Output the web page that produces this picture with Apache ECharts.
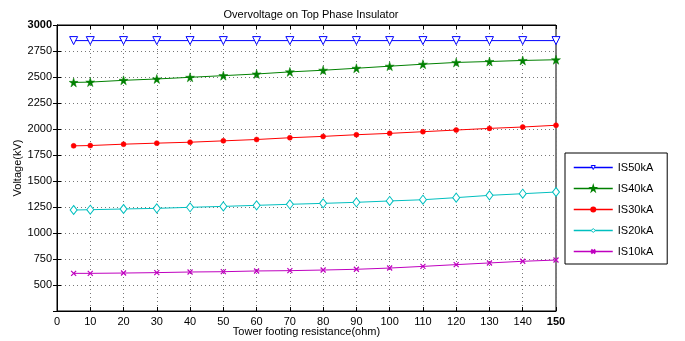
<!DOCTYPE html>
<html>
<head>
<meta charset="utf-8">
<script src="https://cdn.jsdelivr.net/npm/echarts@6/dist/echarts.min.js"></script>
<style>
  html, body { margin: 0; padding: 0; background: #fff; }
  #chart { width: 685px; height: 341px; }
</style>
</head>
<body>
<div id="chart"></div>
<script>
// resistance values (ohm)
const resistance = [5, 10, 20, 30, 40, 50, 60, 70, 80, 90, 100, 110, 120, 130, 140, 150];

const is50 = [2850, 2850, 2850, 2850, 2850, 2850, 2850, 2850, 2850, 2850, 2850, 2850, 2850, 2850, 2850, 2850];
const is40 = [2448, 2451, 2468, 2481, 2497, 2513, 2529, 2549, 2565, 2584, 2604, 2623, 2640, 2649, 2659, 2666];
const is30 = [1838, 1841, 1854, 1864, 1873, 1886, 1899, 1916, 1929, 1945, 1958, 1974, 1990, 2006, 2019, 2036];
const is20 = [1221, 1224, 1231, 1237, 1247, 1256, 1266, 1276, 1285, 1295, 1308, 1320, 1340, 1362, 1378, 1394];
const is10 = [612, 612, 615, 619, 625, 628, 635, 638, 644, 651, 663, 679, 696, 712, 728, 740];

const seriesNames = ["IS50kA", "IS40kA", "IS30kA", "IS20kA", "IS10kA"];

const starPath = "path://M50,0 L61,35 L98,35 L68,57 L79,91 L50,70 L21,91 L32,57 L2,35 L39,35 Z";
const crossPath = "path://M0,0 L10,10 M10,0 L0,10";

const pairs = (ys) => resistance.map((x, i) => [x, ys[i]]);

const font = "Liberation Sans, Arial, sans-serif";

const chart = echarts.init(document.getElementById("chart"));

const option = {
  animation: false,
  title: {
    text: "Overvoltage on Top Phase Insulator",
    left: 306,
    textAlign: "center",
    top: 4,
    textStyle: { fontSize: 11, fontWeight: "normal", color: "#000", fontFamily: font },
  },
  legend: {
    orient: "vertical",
    left: 565,
    top: 153,
    padding: [9, 14, 7, 8],
    itemGap: 10,
    itemWidth: 39,
    itemHeight: 5,
    borderColor: "#000",
    borderWidth: 1,
    backgroundColor: "#fff",
    lineStyle: { width: 1.5 },
    textStyle: { fontSize: 11, color: "#000", fontFamily: font },
    data: [
      { name: seriesNames[0], itemStyle: { color: "#fff", borderColor: "#0000ff", borderWidth: 1 } },
      { name: seriesNames[1] },
      { name: seriesNames[2] },
      { name: seriesNames[3], itemStyle: { color: "#fff", borderColor: "#00bfbf", borderWidth: 1 } },
      { name: seriesNames[4] },
    ],
  },
  grid: {
    left: 57,
    right: 129,
    top: 25,
    bottom: 30,
    outerBoundsMode: "none",
    show: true,
    borderColor: "#000",
    borderWidth: 1,
  },
  xAxis: [
    {
      type: "value",
      min: 0,
      max: 150,
      interval: 10,
      name: "Tower footing resistance(ohm)",
      nameLocation: "middle",
      nameGap: 15,
      nameMoveOverlap: false,
      nameTextStyle: { fontSize: 11, color: "#000", fontFamily: font },
      axisLine: { lineStyle: { color: "#000" } },
      axisTick: { inside: true, length: 4, lineStyle: { color: "#000" } },
      axisLabel: {
        fontSize: 11,
        color: "#000",
        fontFamily: font,
        margin: 5,
        formatter: (v) => (v === 150 ? "{b|150}" : String(v)),
        rich: { b: { fontWeight: "bold", fontSize: 11, fontFamily: font } },
      },
      splitLine: { show: true, lineStyle: { color: "#777", type: [1, 3] } },
    },
    {
      type: "value",
      position: "top",
      min: 0,
      max: 150,
      interval: 10,
      axisLine: { lineStyle: { color: "#000" } },
      axisTick: { inside: true, length: 4, lineStyle: { color: "#000" } },
      axisLabel: { show: false },
      splitLine: { show: false },
    },
  ],
  yAxis: [
    {
      type: "value",
      min: 250,
      max: 3000,
      interval: 250,
      name: "Voltage(kV)",
      nameLocation: "middle",
      nameGap: 34,
      nameMoveOverlap: false,
      nameTextStyle: { fontSize: 11, color: "#000", fontFamily: font },
      axisLine: { lineStyle: { color: "#000" } },
      axisTick: { inside: true, length: 4, lineStyle: { color: "#000" } },
      axisLabel: {
        fontSize: 11,
        color: "#000",
        fontFamily: font,
        margin: 5,
        showMinLabel: false,
        formatter: (v) => (v === 3000 ? "{b|3000}" : String(v)),
        rich: { b: { fontWeight: "bold", fontSize: 11, fontFamily: font } },
      },
      splitLine: { show: true, lineStyle: { color: "#777", type: [1, 3] } },
    },
    {
      type: "value",
      position: "right",
      min: 250,
      max: 3000,
      interval: 250,
      axisLine: { lineStyle: { color: "#000" } },
      axisTick: { inside: true, length: 4, lineStyle: { color: "#000" } },
      axisLabel: { show: false },
      splitLine: { show: false },
    },
  ],
  series: [
    {
      name: "IS50kA",
      type: "line",
      data: pairs(is50),
      symbol: "triangle",
      symbolRotate: 180,
      symbolSize: 8,
      lineStyle: { color: "#0000ff", width: 1 },
      itemStyle: { color: "#fff", borderColor: "#0000ff", borderWidth: 1 },
    },
    {
      name: "IS40kA",
      type: "line",
      data: pairs(is40),
      symbol: starPath,
      symbolSize: 9,
      lineStyle: { color: "#008000", width: 1 },
      itemStyle: { color: "#008000", borderColor: "#008000", borderWidth: 0.5 },
    },
    {
      name: "IS30kA",
      type: "line",
      data: pairs(is30),
      symbol: "circle",
      symbolSize: 5,
      lineStyle: { color: "#ff0000", width: 1 },
      itemStyle: { color: "#ff0000", borderColor: "#ff0000", borderWidth: 0.5 },
    },
    {
      name: "IS20kA",
      type: "line",
      data: pairs(is20),
      symbol: "diamond",
      symbolSize: [7, 9],
      lineStyle: { color: "#00bfbf", width: 1 },
      itemStyle: { color: "#fff", borderColor: "#00bfbf", borderWidth: 1 },
    },
    {
      name: "IS10kA",
      type: "line",
      data: pairs(is10),
      symbol: crossPath,
      symbolSize: 5,
      lineStyle: { color: "#bf00bf", width: 1 },
      itemStyle: { color: "#bf00bf", borderColor: "#bf00bf", borderWidth: 1.2 },
    },
  ],
};

chart.setOption(option);
</script>
</body>
</html>
